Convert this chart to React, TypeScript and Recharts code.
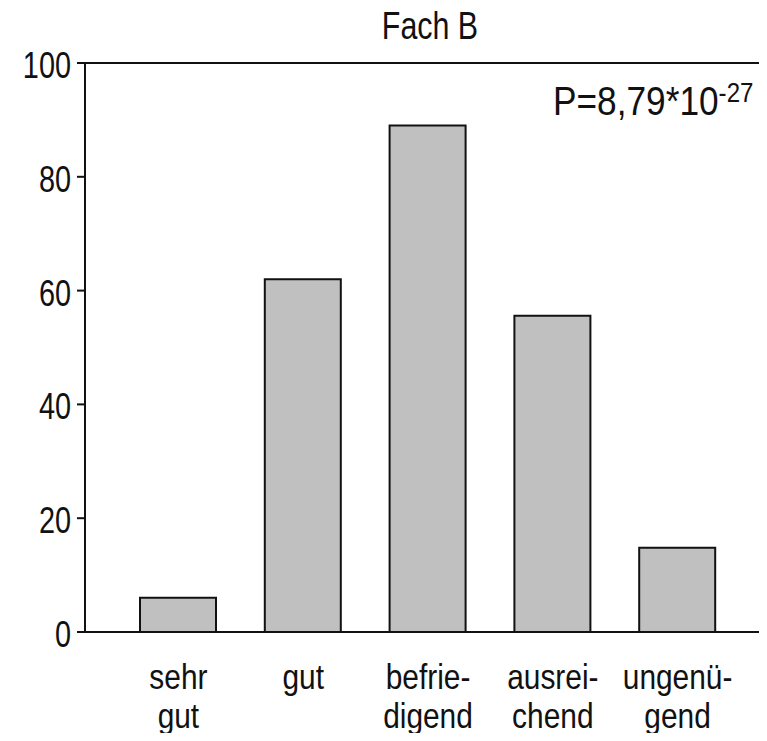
import React from 'react';
import { BarChart, Bar, XAxis, YAxis, ReferenceLine } from 'recharts';

const categories = [['sehr', 'gut'], ['gut'], ['befrie-', 'digend'], ['ausrei-', 'chend'], ['ungenü-', 'gend']];
const percent = [6, 62, 89, 55.6, 14.8];
const yTicks = [0, 20, 40, 60, 80, 100];

const data = categories.map((lines, i) => ({ name: lines.join(' '), lines, value: percent[i] }));

const FONT = '"Liberation Sans", Arial, sans-serif';

// the original uses a narrow Arial, so squeeze the text horizontally
const Narrow = ({ x, y, size, sx = 0.8, anchor = 'start', children }) => (
  <text
    transform={`translate(${x} ${y}) scale(${sx} 1)`}
    x={0}
    y={0}
    textAnchor={anchor}
    fontSize={size}
    fill="#111"
    fontFamily={FONT}
  >
    {children}
  </text>
);

const XTick = (props) => {
  const { x, y, index } = props;
  const lines = data[index].lines;
  return (
    <g>
      {lines.map((l, k) => (
        <Narrow key={k} x={x} y={y + 49 + k * 39} size={36} sx={0.83} anchor="middle">
          {l}
        </Narrow>
      ))}
    </g>
  );
};

const YTick = (props) => {
  const { x, y, payload } = props;
  return (
    <Narrow x={x} y={y + 15} size={37} sx={0.78} anchor="end">
      {payload.value}
    </Narrow>
  );
};

const App = () => {
  return (
    <div style={{ margin: -8, width: 767, height: 741, background: '#fff' }}>
      <BarChart
        width={767}
        height={741}
        data={data}
        margin={{ top: 63, right: 0, bottom: 0, left: 0 }}
        barSize={76}
      >
        <Narrow x={430} y={39} size={38} sx={0.8} anchor="middle">
          Fach B
        </Narrow>
        <Narrow x={553} y={115} size={41} sx={0.86}>
          P=8,79*10
          <tspan dy={-13} fontSize={28}>-27</tspan>
        </Narrow>
        <XAxis
          dataKey="name"
          height={109}
          tick={<XTick />}
          tickLine={false}
          axisLine={{ stroke: '#111', strokeWidth: 2 }}
          padding={{ left: 31, right: 27 }}
        />
        <YAxis
          width={85}
          domain={[0, 100]}
          ticks={yTicks}
          tick={<YTick />}
          tickSize={8}
          tickMargin={6}
          tickLine={{ stroke: '#111', strokeWidth: 2 }}
          axisLine={{ stroke: '#111', strokeWidth: 2 }}
        />
        <ReferenceLine y={100} stroke="#111" strokeWidth={2} />
        <Bar dataKey="value" fill="#c0c0c0" stroke="#111" strokeWidth={2} isAnimationActive={false} />
      </BarChart>
    </div>
  );
};

export default App;
